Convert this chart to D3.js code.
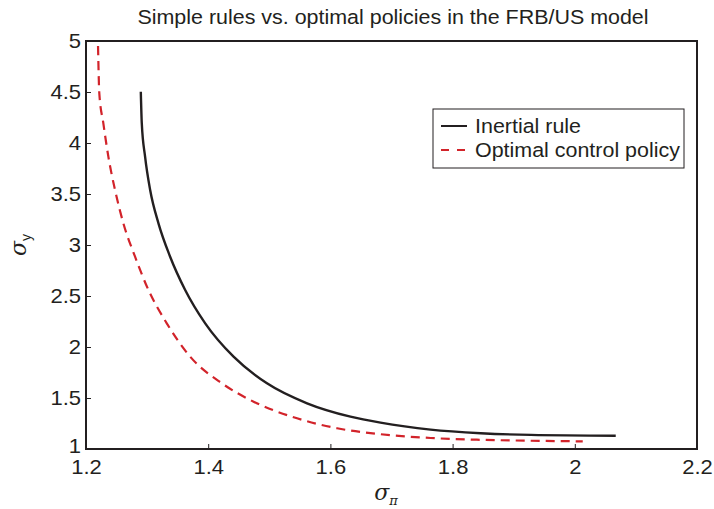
<!DOCTYPE html>
<html>
<head>
<meta charset="utf-8">
<script src="https://cdn.jsdelivr.net/npm/d3@7"></script>
<style>
  body { margin: 0; background: #fff; }
  text { font-family: "Liberation Sans", Arial, sans-serif; fill: #231f20; }
</style>
</head>
<body>
<svg id="chart"></svg>
<script>
// Set data
const inertialX = [1.2897, 1.2913, 1.2967, 1.305, 1.3186, 1.3377, 1.3623, 1.3951, 1.4415, 1.4962, 1.5618, 1.6328, 1.682, 1.764, 1.846, 1.928, 2.067];
const inertialY = [4.503, 4.193, 3.866, 3.539, 3.212, 2.885, 2.559, 2.232, 1.905, 1.644, 1.448, 1.317, 1.258, 1.190, 1.155, 1.138, 1.13];

const optimalX = [1.2197, 1.2218, 1.2284, 1.2366, 1.2475, 1.2612, 1.2803, 1.3022, 1.3322, 1.3705, 1.4224, 1.4743, 1.5454, 1.611, 1.682, 1.764, 1.846, 1.928, 2.013];
const optimalY = [4.95, 4.487, 4.193, 3.866, 3.539, 3.212, 2.885, 2.559, 2.232, 1.905, 1.644, 1.464, 1.301, 1.203, 1.145, 1.108, 1.090, 1.081, 1.075];

const xTicks = [1.2, 1.4, 1.6, 1.8, 2, 2.2];
const yTicks = [1, 1.5, 2, 2.5, 3, 3.5, 4, 4.5, 5];

const seriesNames = ["Inertial rule", "Optimal control policy"];

// Set width and height
const width = 714;
const height = 509;
const margin = {top: 41, right: 17, bottom: 60, left: 86};
const stretch = 1.1;   // the reference text is drawn a bit wide

const svg = d3.select("#chart")
    .attr("width", width)
    .attr("height", height);

const x = d3.scaleLinear().domain([1.2, 2.2]).range([margin.left, width - margin.right]);
const y = d3.scaleLinear().domain([1, 5]).range([height - margin.bottom, margin.top]);

const toPoints = function(xs, ys){
    return xs.map((v, i) => [v, ys[i]]);
}

// wide text at a point
const wideText = function(parent, tx, ty, str, size, anchor){
    return parent.append("text")
        .attr("transform", "translate(" + tx + "," + ty + ") scale(" + stretch + ",1)")
        .attr("text-anchor", anchor || "start")
        .style("font-size", size)
        .text(str);
}

// axes
const xAxis = svg.append("g")
    .attr("transform", "translate(0," + (height - margin.bottom) + ")")
    .call(d3.axisBottom(x).tickValues(xTicks).tickFormat(d3.format("")).tickSizeInner(-5).tickSizeOuter(0).tickPadding(11));
const yAxis = svg.append("g")
    .attr("transform", "translate(" + margin.left + ",0)")
    .call(d3.axisLeft(y).tickValues(yTicks).tickFormat(d3.format("")).tickSizeInner(-5).tickSizeOuter(0).tickPadding(5));

for (const axis of [xAxis, yAxis]){
    axis.select(".domain").remove();
    axis.selectAll(".tick line").attr("stroke", "#231f20").attr("stroke-width", 1);
    axis.selectAll(".tick text")
        .style("font-size", "20px")
        .style("font-family", "'Liberation Sans', Arial, sans-serif")
        .attr("fill", "#231f20");
}
xAxis.selectAll(".tick text").attr("transform", "scale(" + stretch + ",1)").attr("dy", "0.72em");
yAxis.selectAll(".tick text")
    .attr("x", -5 / stretch)
    .attr("transform", "scale(" + stretch + ",1)");
// lowest y label sits a touch higher so it clears 1.2
yAxis.selectAll(".tick text").filter(d => d === 1).attr("y", -3);
// hide end ticks on the box
xAxis.selectAll(".tick line").filter(d => d === 1.2 || d === 2.2).remove();
yAxis.selectAll(".tick line").filter(d => d === 1 || d === 5).remove();

// box
svg.append("rect")
    .attr("x", margin.left).attr("y", margin.top)
    .attr("width", width - margin.left - margin.right)
    .attr("height", height - margin.top - margin.bottom)
    .attr("fill", "none")
    .attr("stroke", "#231f20")
    .attr("stroke-width", 2);

// lines
const line = d3.line()
    .x(d => x(d[0]))
    .y(d => y(d[1]))
    .curve(d3.curveMonotoneX);

svg.append("path")
    .datum(toPoints(optimalX, optimalY))
    .attr("d", line)
    .attr("fill", "none")
    .attr("stroke", "#d2232a")
    .attr("stroke-width", 2.2)
    .attr("stroke-dasharray", "9,6");

svg.append("path")
    .datum(toPoints(inertialX, inertialY))
    .attr("d", line)
    .attr("fill", "none")
    .attr("stroke", "#231f20")
    .attr("stroke-width", 2.4);

// title
wideText(svg, 393, 24, "Simple rules vs. optimal policies in the FRB/US model", "19.5px", "middle");

// axis labels
svg.append("text")
    .attr("x", 386).attr("y", 500)
    .attr("text-anchor", "middle")
    .style("font-size", "22px")
    .style("font-family", "'DejaVu Serif', serif")
    .style("font-style", "italic")
    .html("σ<tspan dy='5' font-size='13px'>π</tspan>");

svg.append("text")
    .attr("transform", "translate(26,245) rotate(-90)")
    .attr("text-anchor", "middle")
    .style("font-size", "22px")
    .style("font-family", "'DejaVu Serif', serif")
    .style("font-style", "italic")
    .html("σ<tspan dy='5' font-size='14px' style='font-family:Liberation Sans;font-style:normal'>y</tspan>");

// legend
const legend = svg.append("g");
legend.append("rect")
    .attr("x", 433).attr("y", 109)
    .attr("width", 251).attr("height", 59)
    .attr("fill", "#fff")
    .attr("stroke", "#231f20")
    .attr("stroke-width", 1);

const legendStyles = [
    {color: "#231f20", dash: null},
    {color: "#d2232a", dash: "8,8"}
];
seriesNames.forEach((name, i) => {
    const ly = 126 + i * 24;
    legend.append("line")
        .attr("x1", 441).attr("x2", 467)
        .attr("y1", ly).attr("y2", ly)
        .attr("stroke", legendStyles[i].color)
        .attr("stroke-width", 2)
        .attr("stroke-dasharray", legendStyles[i].dash);
    wideText(legend, 475, ly + 7, name, "19.5px");
});
</script>
</body>
</html>
